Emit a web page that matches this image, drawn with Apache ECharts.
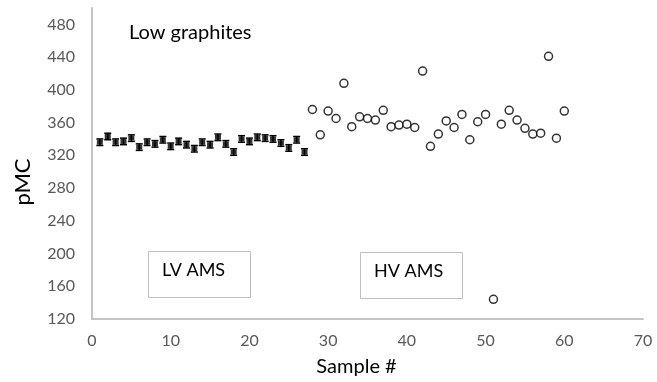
<!DOCTYPE html>
<html>
<head>
<meta charset="utf-8">
<style>
  html, body { margin: 0; padding: 0; background: #fff; }
  #chart { width: 657px; height: 382px; }
</style>
<script src="https://cdn.jsdelivr.net/npm/echarts@6/dist/echarts.min.js"></script>
</head>
<body>
<div id="chart"></div>
<script>
  // LV AMS samples (filled squares with error bars)
  const lvSamples = [1, 2, 3, 4, 5, 6, 7, 8, 9, 10, 11, 12, 13, 14, 15, 16, 17, 18, 19, 20, 21, 22, 23, 24, 25, 26, 27];
  const lvValues = [336, 343, 336, 337, 341, 330, 336, 334, 339, 331, 337, 333, 328, 336, 333, 342, 334, 324, 340, 337, 342, 341, 340, 335, 329, 339, 324];
  const lvErrors = [4, 4, 4, 4, 4, 4, 4, 4, 4, 4, 4, 4, 4, 4, 4, 4, 4, 4, 4, 4, 4, 4, 4, 4, 4, 4, 4];

  // HV AMS samples (open circles)
  const hvSamples = [28, 29, 30, 31, 32, 33, 34, 35, 36, 37, 38, 39, 40, 41, 42, 43, 44, 45, 46, 47, 48, 49, 50, 51, 52, 53, 54, 55, 56, 57, 58, 59, 60];
  const hvValues = [376, 345, 374, 365, 408, 355, 367, 365, 363, 375, 355, 357, 358, 354, 423, 331, 346, 362, 354, 370, 339, 361, 370, 144, 358, 375, 363, 353, 346, 347, 441, 341, 374];

  const FONT = "Lato, 'Open Sans', sans-serif";
  const AXIS_GRAY = "#c4c4c4";
  const LABEL_GRAY = "#595959";

  const chart = echarts.init(document.getElementById("chart"), null, { renderer: "canvas" });

  const lvPoints = lvSamples.map((s, i) => [s, lvValues[i], lvErrors[i]]);
  const hvPoints = hvSamples.map((s, i) => [s, hvValues[i]]);

  chart.setOption({
    animation: false,
    backgroundColor: "#fff",
    grid: { left: 92, right: 14, top: 8, bottom: 61 },
    xAxis: {
      type: "value",
      min: 0,
      max: 70,
      interval: 10,
      name: "Sample #",
      nameLocation: "middle",
      nameGap: 38,
      nameTextStyle: { color: "#000", fontSize: 20, fontFamily: FONT, padding: [0, 22, 0, 0] },
      axisLine: { show: true, lineStyle: { color: AXIS_GRAY, width: 2 } },
      axisTick: { show: false },
      splitLine: { show: false },
      axisLabel: { color: LABEL_GRAY, fontSize: 16, fontFamily: FONT, margin: 14 },
    },
    yAxis: {
      type: "value",
      min: 120,
      max: 500,
      interval: 40,
      axisLine: { show: true, lineStyle: { color: AXIS_GRAY, width: 2 } },
      axisTick: { show: false },
      splitLine: { show: false },
      axisLabel: {
        color: LABEL_GRAY,
        fontSize: 16,
        fontFamily: FONT,
        margin: 17,
        formatter(v) {
          return v > 480 ? "" : String(v);
        },
      },
    },
    graphic: [
      {
        type: "text",
        x: 23,
        y: 182,
        rotation: Math.PI / 2,
        style: { text: "pMC", fontSize: 22, fontFamily: FONT, fill: "#000", align: "center", verticalAlign: "middle" },
      },
      {
        type: "text",
        left: 129,
        top: 23,
        style: { text: "Low graphites", fontSize: 20, fontFamily: FONT, fill: "#000" },
      },
      {
        type: "rect",
        shape: { x: 148.5, y: 251.5, width: 102, height: 46 },
        style: { fill: "#fff", stroke: "#bfbfbf", lineWidth: 1 },
      },
      {
        type: "text",
        left: 162,
        top: 261,
        style: { text: "LV AMS", fontSize: 18, fontFamily: FONT, fill: "#000" },
      },
      {
        type: "rect",
        shape: { x: 360.5, y: 252.5, width: 102, height: 46 },
        style: { fill: "#fff", stroke: "#bfbfbf", lineWidth: 1 },
      },
      {
        type: "text",
        left: 374,
        top: 262,
        style: { text: "HV AMS", fontSize: 18, fontFamily: FONT, fill: "#000" },
      },
    ],
    series: [
      {
        name: "LV error",
        type: "custom",
        data: lvPoints,
        renderItem(params, api) {
          const x = api.value(0);
          const y = api.value(1);
          const e = api.value(2);
          const top = api.coord([x, y + e]);
          const bot = api.coord([x, y - e]);
          const hw = 3.5;
          const style = { stroke: "#000", lineWidth: 1.5 };
          return {
            type: "group",
            children: [
              { type: "line", shape: { x1: top[0], y1: top[1], x2: bot[0], y2: bot[1] }, style },
              { type: "line", shape: { x1: top[0] - hw, y1: top[1], x2: top[0] + hw, y2: top[1] }, style },
              { type: "line", shape: { x1: bot[0] - hw, y1: bot[1], x2: bot[0] + hw, y2: bot[1] }, style },
            ],
          };
        },
        z: 2,
      },
      {
        name: "LV AMS",
        type: "scatter",
        data: lvPoints,
        symbol: "rect",
        symbolSize: [6, 5],
        itemStyle: { color: "#000" },
        z: 3,
      },
      {
        name: "HV AMS",
        type: "scatter",
        data: hvPoints,
        symbol: "circle",
        symbolSize: 8,
        itemStyle: { color: "#fff", borderColor: "#000", borderWidth: 1.5 },
        z: 3,
      },
    ],
  });
</script>
</body>
</html>
